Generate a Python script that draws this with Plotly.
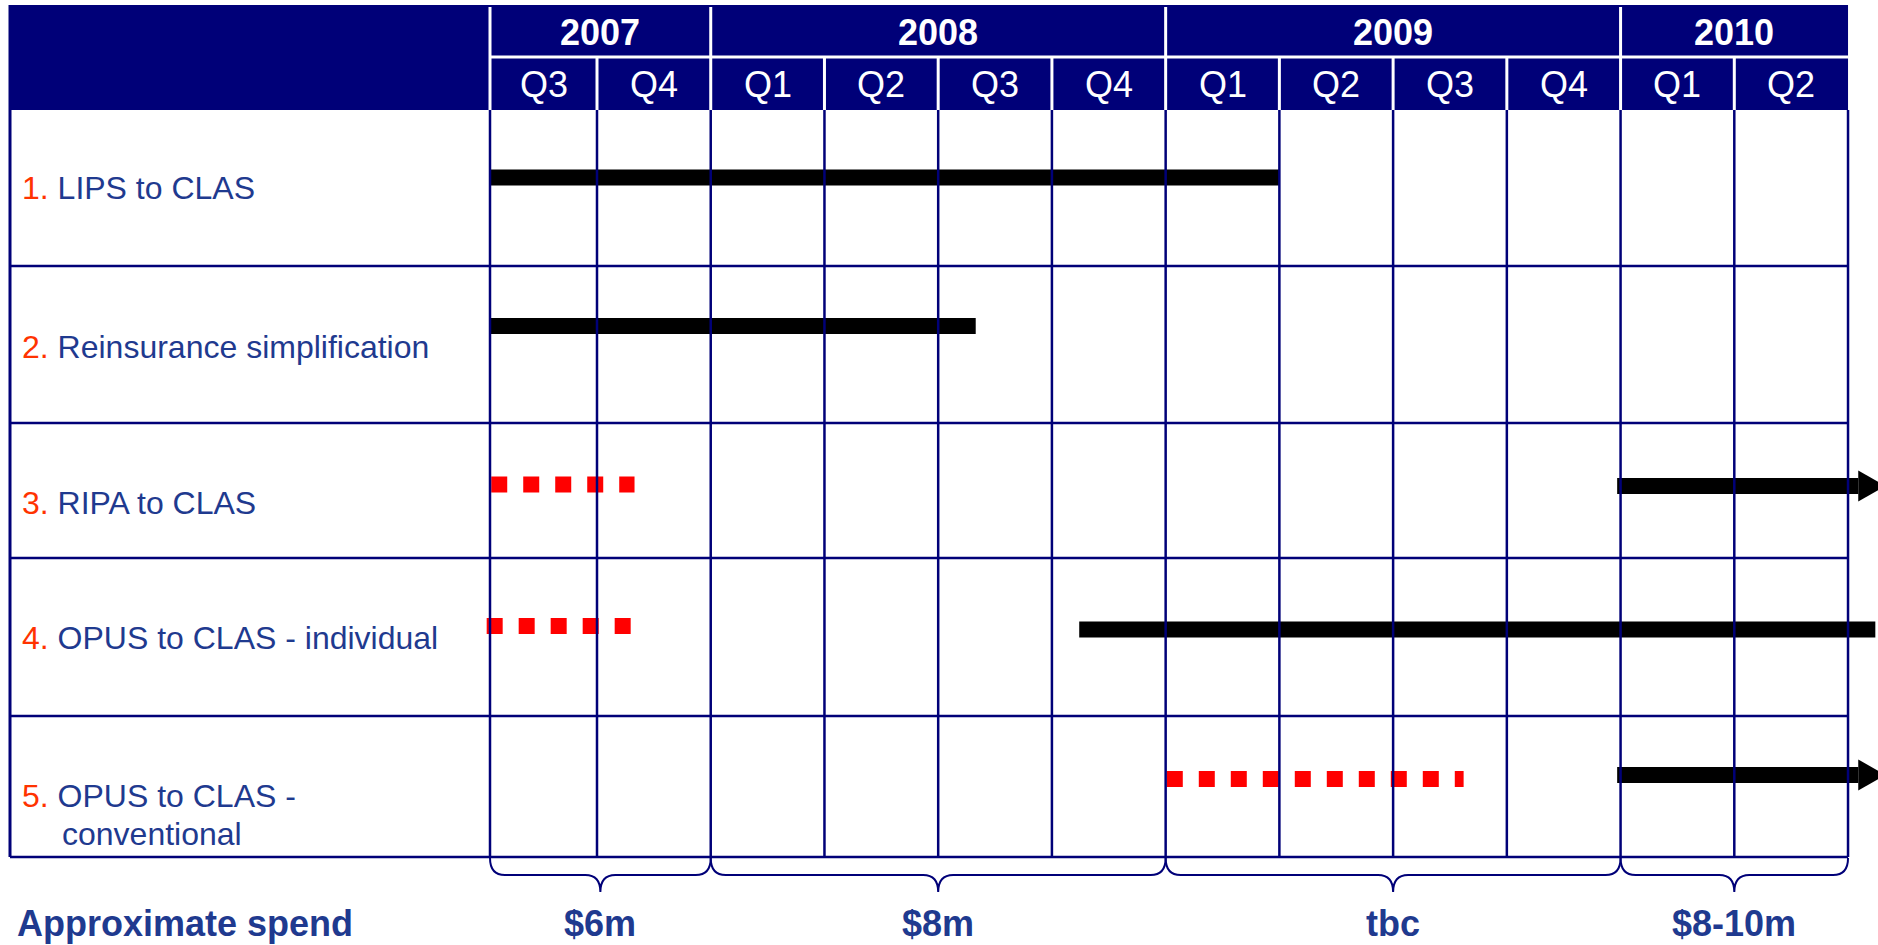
import plotly.graph_objects as go

# ---------------- data ----------------
years = ["2007", "2008", "2009", "2010"]
year_quarter_counts = [2, 4, 4, 2]
quarters = ["Q3", "Q4", "Q1", "Q2", "Q3", "Q4", "Q1", "Q2", "Q3", "Q4", "Q1", "Q2"]

task_numbers = ["1.", "2.", "3.", "4.", "5."]
tasks = ["LIPS to CLAS", "Reinsurance simplification", "RIPA to CLAS",
         "OPUS to CLAS - individual", "OPUS to CLAS - conventional"]

# quarter units (q=1 is the start of Q4 2007)
solid_start = [0.06, 0.06, 9.97, 5.24, 9.97]
solid_end = [7.0, 4.33, 12.09, 12.24, 12.09]
solid_arrow = [False, False, True, False, True]
dashed_start = [None, None, 0.07, 0.03, 6.01]
dashed_end = [None, None, 1.33, 1.30, 8.62]

spend_labels = ["$6m", "$8m", "tbc", "$8-10m"]
spend_title = "Approximate spend"

# ---------------- layout constants ----------------
W, H = 1878, 945
Q1_PX, Q_W = 597.0, 113.73           # pixel of q=1, pixel width of a quarter


def qx(px):
    return 1 + (px - Q1_PX) / Q_W


X_LO, X_HI = qx(0), qx(W)
TABLE_LEFT = qx(10)
FIRST_EDGE = qx(490)                  # Q3 2007 column is slightly narrower
N_Q = len(quarters)

HEADER_TOP, YEAR_BOTTOM, HEADER_BOTTOM = 5, 57, 110
row_edges = [110, 266, 423, 558, 716, 857]
solid_y = [177.5, 326, 486, 629.5, 775]
dashed_y = [None, None, 484.5, 626, 779]
label_y = [188, 347, 503, 638, 796]
label_line2_dy = 38

NAVY = "#000078"
TEXT_NAVY = "#1F3A8F"
NUM_RED = "#FF3300"
FONT = "Liberation Sans, Arial, sans-serif"
BAR_W = 16

col_edges = [FIRST_EDGE] + list(range(1, N_Q + 1))

fig = go.Figure()

# bars
for i in range(len(tasks)):
    if dashed_start[i] is not None:
        fig.add_trace(go.Scatter(
            x=[dashed_start[i], dashed_end[i]], y=[dashed_y[i]] * 2,
            mode="lines", line=dict(color="#FF0000", width=BAR_W, dash="16px,16px"),
            hoverinfo="skip"))
    fig.add_trace(go.Scatter(
        x=[solid_start[i], solid_end[i]], y=[solid_y[i]] * 2,
        mode="lines", line=dict(color="black", width=BAR_W),
        hoverinfo="skip"))
    if solid_arrow[i]:
        x0 = solid_end[i]
        yc = solid_y[i]
        fig.add_trace(go.Scatter(
            x=[x0, x0, x0 + 0.24, x0], y=[yc - 15.5, yc + 15.5, yc, yc - 15.5],
            mode="lines", fill="toself", fillcolor="black",
            line=dict(color="black", width=0), hoverinfo="skip"))

shapes = []
# header block
shapes.append(dict(type="rect", xref="x", yref="y", x0=TABLE_LEFT, x1=N_Q,
                   y0=HEADER_TOP, y1=HEADER_BOTTOM, fillcolor=NAVY,
                   line=dict(width=0), layer="below"))
# white lines in header
shapes.append(dict(type="line", xref="x", yref="y", x0=FIRST_EDGE, x1=N_Q,
                   y0=YEAR_BOTTOM, y1=YEAR_BOTTOM, line=dict(color="white", width=3)))
year_bounds = [0]
for c in year_quarter_counts:
    year_bounds.append(year_bounds[-1] + c)
year_edges = [col_edges[b] for b in year_bounds]
for q in range(N_Q):
    top = HEADER_TOP + 2 if q in year_bounds else YEAR_BOTTOM
    shapes.append(dict(type="line", xref="x", yref="y", x0=col_edges[q], x1=col_edges[q],
                       y0=top, y1=HEADER_BOTTOM, line=dict(color="white", width=3)))
# body grid
for e in col_edges:
    shapes.append(dict(type="line", xref="x", yref="y", x0=e, x1=e,
                       y0=HEADER_BOTTOM, y1=row_edges[-1], line=dict(color=NAVY, width=2.5)))
shapes.append(dict(type="line", xref="x", yref="y", x0=TABLE_LEFT, x1=TABLE_LEFT,
                   y0=HEADER_TOP, y1=row_edges[-1], line=dict(color=NAVY, width=3)))
for ye in row_edges[1:]:
    shapes.append(dict(type="line", xref="x", yref="y", x0=TABLE_LEFT, x1=N_Q,
                       y0=ye, y1=ye, line=dict(color=NAVY, width=2.5)))

# braces under the table
r = 15 / Q_W
yt, ym, yb = 858, 875, 892
for a, b in zip(year_edges[:-1], year_edges[1:]):
    m = (a + b) / 2
    path = (f"M {a},{yt} Q {a},{ym} {a + r},{ym} L {m - r},{ym} "
            f"Q {m},{ym} {m},{yb} Q {m},{ym} {m + r},{ym} L {b - r},{ym} "
            f"Q {b},{ym} {b},{yt}")
    shapes.append(dict(type="path", xref="x", yref="y", path=path,
                       line=dict(color=NAVY, width=2)))

annotations = []
# year labels
for yr, a, b in zip(years, year_edges[:-1], year_edges[1:]):
    annotations.append(dict(x=(a + b) / 2, y=(HEADER_TOP + YEAR_BOTTOM) / 2 + 1, xref="x", yref="y",
                            text=f"<b>{yr}</b>", showarrow=False,
                            font=dict(family=FONT, size=36, color="white")))
# quarter labels
for q, lab in enumerate(quarters):
    annotations.append(dict(x=(col_edges[q] + col_edges[q + 1]) / 2,
                            y=(YEAR_BOTTOM + HEADER_BOTTOM) / 2 + 1, xref="x", yref="y",
                            text=lab, showarrow=False,
                            font=dict(family=FONT, size=36, color="white")))
# task labels
for i, (num, name) in enumerate(zip(task_numbers, tasks)):
    if " - " in name and i == len(tasks) - 1:
        line1, line2 = name.split(" - ", 1)
        line1 += " -"
        annotations.append(dict(x=qx(60), y=label_y[i] + label_line2_dy, xref="x", yref="y",
                                xanchor="left", text=line2, showarrow=False,
                                font=dict(family=FONT, size=32, color=TEXT_NAVY)))
    else:
        line1 = name
    annotations.append(dict(x=qx(20), y=label_y[i], xref="x", yref="y", xanchor="left",
                            text=f'<span style="color:{NUM_RED}">{num}</span> {line1}',
                            showarrow=False,
                            font=dict(family=FONT, size=32, color=TEXT_NAVY)))
# spend
annotations.append(dict(x=qx(15), y=923, xref="x", yref="y", xanchor="left",
                        text=f"<b>{spend_title}</b>", showarrow=False,
                        font=dict(family=FONT, size=36, color=TEXT_NAVY)))
for lab, a, b in zip(spend_labels, year_edges[:-1], year_edges[1:]):
    annotations.append(dict(x=(a + b) / 2, y=923, xref="x", yref="y",
                            text=f"<b>{lab}</b>", showarrow=False,
                            font=dict(family=FONT, size=36, color=TEXT_NAVY)))

fig.update_layout(
    width=W, height=H,
    margin=dict(l=0, r=0, t=0, b=0, pad=0),
    paper_bgcolor="white", plot_bgcolor="white",
    showlegend=False,
    xaxis=dict(range=[X_LO, X_HI], visible=False, fixedrange=True),
    yaxis=dict(range=[H, 0], visible=False, fixedrange=True),
    shapes=shapes, annotations=annotations,
)

fig.write_html("out.html", config={"displayModeBar": False})
